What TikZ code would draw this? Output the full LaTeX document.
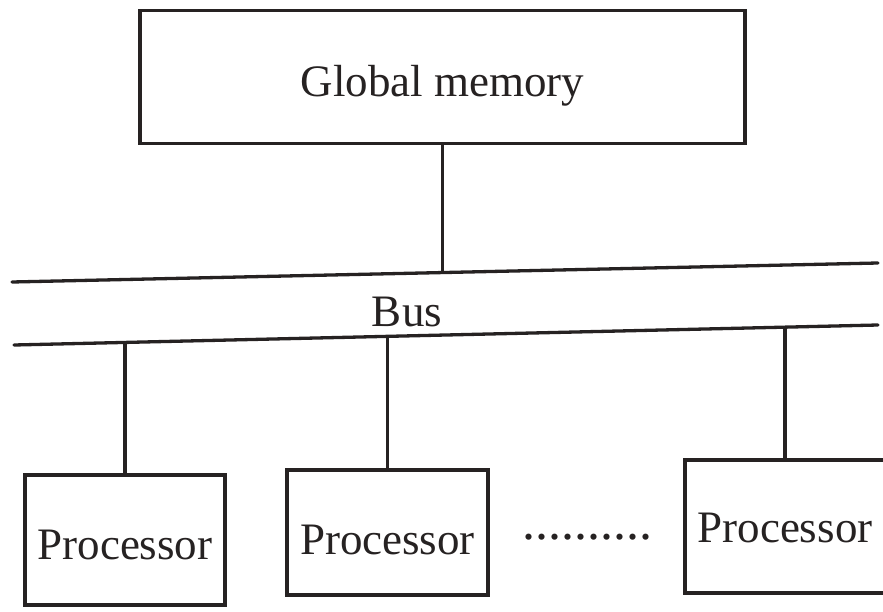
\documentclass[tikz,border=0pt]{standalone}
\usepackage{fontspec}
\setmainfont{Liberation Serif}
\usetikzlibrary{calc}
\definecolor{ink}{RGB}{38,34,34}
\begin{document}
\begin{tikzpicture}[x=1pt,y=-1pt,
  ink line/.style={draw=ink,line width=3.3pt},
  box/.style={ink line,rectangle,inner sep=0pt,text=ink,text depth=0pt,
    font=\fontsize{45}{50}\selectfont},
  lbl/.style={text=ink,inner sep=0pt,font=\fontsize{45}{50}\selectfont}]
\useasboundingbox (0,0) rectangle (883,612);
\clip (0,0) rectangle (883,612);
% Global memory
\node[box,text height=40pt,minimum width=605pt,minimum height=133pt] (gm) at (442.5,77) {Global memory};
% bus lines
\coordinate (btl) at (12,282);
\coordinate (btr) at (878,263);
\coordinate (bbl) at (14,345);
\coordinate (bbr) at (878,325);
\draw[ink line,line cap=round] (btl) -- (btr);
\draw[ink line,line cap=round] (bbl) -- (bbr);
\node[lbl] (bus) at (407,312) {Bus};
% processors
\node[box,text height=38pt,minimum width=200pt,minimum height=130pt] (p1) at (125,540) {Processor};
\node[box,text height=44pt,minimum width=201pt,minimum height=125pt] (p2) at (387.5,532.5) {Processor};
\node[box,text height=32pt,minimum width=200pt,minimum height=133pt] (p3) at (785,526.5) {Processor};
\node[lbl,font=\fontsize{52}{56}\selectfont] (dots) at (587,537) {..........};
% taps on bus
\coordinate (t0) at ($(btl)!0.4965!(btr)$);
\coordinate (t1) at ($(bbl)!0.125!(bbr)$);
\coordinate (t2) at ($(bbl)!0.428!(bbr)$);
\coordinate (t3) at ($(bbl)!0.888!(bbr)$);
\draw[ink line] (gm.south) -- (gm.south |- t0);
\draw[ink line] (p1.north) -- (p1.north |- t1);
\draw[ink line] (p2.north) -- (p2.north |- t2);
\draw[ink line] (p3.north) -- (p3.north |- t3);
\end{tikzpicture}
\end{document}
